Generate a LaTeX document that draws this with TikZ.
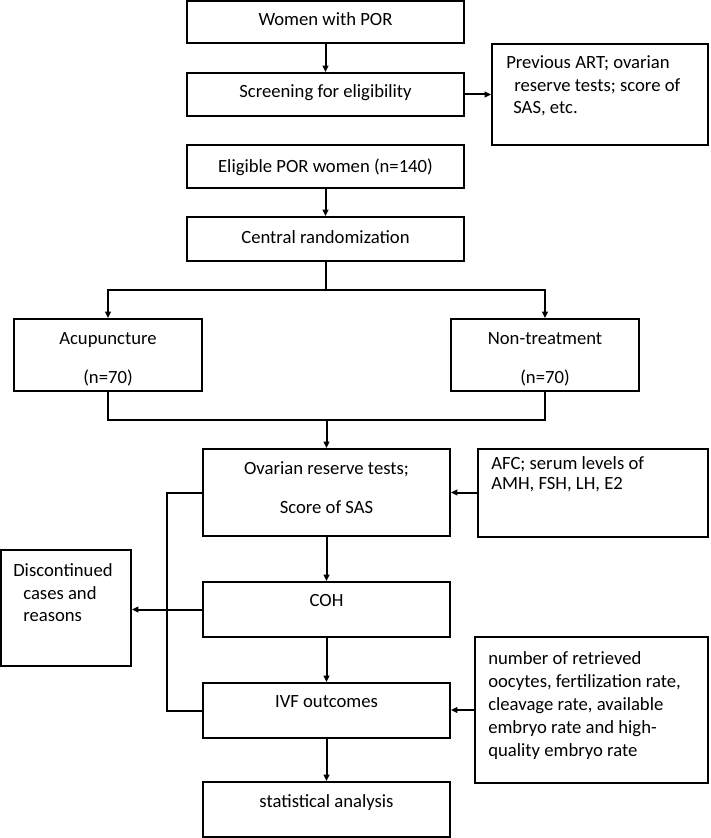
\documentclass[tikz,border=0pt]{standalone}
\usepackage{fontspec}
\setmainfont{Carlito}
\usetikzlibrary{arrows.meta}
\begin{document}
\begin{tikzpicture}[x=0.75pt,y=-0.75pt,
  box/.style={draw=black, line width=1.5pt, inner sep=0pt, fill=none},
  bx/.style n args={2}{box, minimum width=#1*0.75pt, minimum height=#2*0.75pt},
  txt/.style={inner sep=0pt, anchor=base, font=\fontsize{14}{17}\selectfont},
  ltxt/.style={txt, anchor=base west},
  conn/.style={line width=1.5pt},
  arr/.style={conn, -{Triangle[length=4.8pt,width=4.4pt]}}]
\useasboundingbox (0,0) rectangle (710,838);
% boxes
\node[bx={277}{42}] (b1) at (325.5,22) {};
\node[bx={277}{43}] (scr) at (325.5,94.5) {};
\node[bx={277}{43}] (elig) at (325.5,166.5) {};
\node[bx={277}{44}] (cent) at (325.5,239) {};
\node[bx={216}{101}] (prev) at (600,94.5) {};
\node[bx={188}{72}] (acup) at (108,355) {};
\node[bx={188}{72}] (non) at (545,355) {};
\node[bx={247}{87}] (ov) at (326.5,492.5) {};
\node[bx={230}{88}] (afc) at (593,492.5) {};
\node[bx={130}{116}] (disc) at (66,608) {};
\node[bx={247}{55}] (coh) at (326.5,609.5) {};
\node[bx={247}{55}] (ivf) at (326.5,710.5) {};
\node[bx={247}{55}] (stat) at (326.5,809.5) {};
\node[bx={233}{146}] (outc) at (591.5,710) {};
% texts
\node[txt] (t1) at (325.5,26) {Women with POR};
\node[txt] (t2) at (325.5,98) {Screening for eligibility};
\node[txt] (t3) at (325.5,172) {Eligible POR women (n=140)};
\node[txt] (t4) at (325.5,243) {Central randomization};
\node[ltxt] (p1) at (506,69) {Previous ART; ovarian};
\node[ltxt] (p2) at (514,92) {reserve tests; score of};
\node[ltxt] (p3) at (513,114) {SAS, etc.};
\node[txt] (a1) at (108,344) {Acupuncture};
\node[txt] (a2) at (108,383) {(n=70)};
\node[txt] (n1) at (545,344) {Non-treatment};
\node[txt] (n2) at (545,383) {(n=70)};
\node[txt] (o1) at (326.5,474) {Ovarian reserve tests;};
\node[txt] (o2) at (326.5,513) {Score of SAS};
\node[ltxt] (f1) at (491,469) {AFC; serum levels of};
\node[ltxt] (f2) at (491,489) {AMH, FSH, LH, E2};
\node[ltxt] (d1) at (13,576) {Discontinued};
\node[ltxt] (d2) at (23,599) {cases and};
\node[ltxt] (d3) at (23,621) {reasons};
\node[txt] (c1) at (326.5,606) {COH};
\node[txt] (i1) at (326.5,707) {IVF outcomes};
\node[txt] (s1) at (326.5,807) {statistical analysis};
\node[ltxt] (u1) at (488,664) {number of retrieved};
\node[ltxt] (u2) at (488,687) {oocytes, fertilization rate,};
\node[ltxt] (u3) at (488,710) {cleavage rate, available};
\node[ltxt] (u4) at (488,733) {embryo rate and high-};
\node[ltxt] (u5) at (488,756) {quality embryo rate};
% connectors
\coordinate (br) at (326,290);
\coordinate (mg) at (326,420);
\coordinate (lx) at (167,0);
\draw[arr] (b1.south) -- (scr.north);
\draw[arr] (scr.east) -- (prev.west);
\draw[arr] (elig.south) -- (cent.north);
\draw[conn] (cent.south) -- (cent.south |- br);
\draw[arr] (cent.south |- br) -| (acup.north);
\draw[arr] (cent.south |- br) -| (non.north);
\draw[conn] (acup.south) -- (acup.south |- mg) -- (non.south |- mg) -- (non.south);
\draw[arr] (ov.north |- mg) -- (ov.north);
\draw[arr] (afc.west) -- (afc.west -| ov.east);
\draw[arr] (ov.south) -- (coh.north);
\draw[arr] (coh.south) -- (ivf.north);
\draw[arr] (ivf.south) -- (stat.north);
\draw[arr] (outc.west) -- (outc.west -| ivf.east);
\draw[conn] (ov.west) -- (ov.west -| lx) -- (ivf.west -| lx) -- (ivf.west);
\draw[arr] (coh.west) -- (coh.west -| disc.east);
\end{tikzpicture}
\end{document}
